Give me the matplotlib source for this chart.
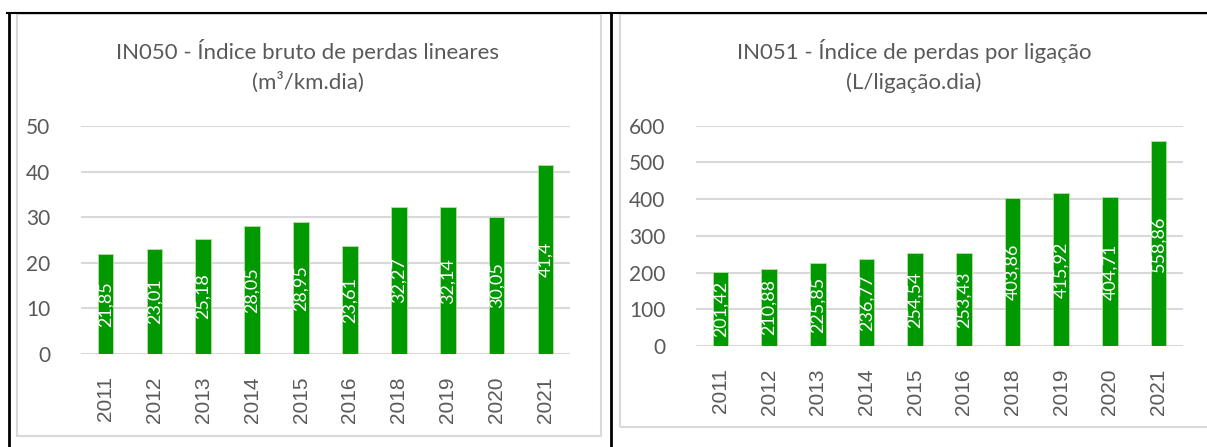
import matplotlib
matplotlib.use("Agg")
import matplotlib.pyplot as plt
from matplotlib.lines import Line2D
from matplotlib.patches import Rectangle

years = ["2011", "2012", "2013", "2014", "2015", "2016", "2018", "2019", "2020", "2021"]
in050 = [21.85, 23.01, 25.18, 28.05, 28.95, 23.61, 32.27, 32.14, 30.05, 41.4]
in051 = [201.42, 210.88, 225.85, 236.77, 254.54, 253.43, 403.86, 415.92, 404.71, 558.86]
title050 = "IN050 - Índice bruto de perdas lineares\n(m³/km.dia)"
title051 = "IN051 - Índice de perdas por ligação\n(L/ligação.dia)"
yticks050 = [0, 10, 20, 30, 40, 50]
yticks051 = [0, 100, 200, 300, 400, 500, 600]

W, H = 1207, 447
fig = plt.figure(figsize=(W / 100, H / 100), dpi=100)
fig.patch.set_facecolor("white")

def px(x0, y0, x1, y1):
    # pixel box (top-left origin) -> figure fraction rect
    return [x0 / W, 1 - y1 / H, (x1 - x0) / W, (y1 - y0) / H]

GREEN = "#009900"
TXT = "#595959"
GRID = "#d9d9d9"

# chart frames (light gray)
fig.add_artist(Rectangle((16.5 / W, 1 - 435.5 / H), (600.5 - 16.5) / W, (435.5 - 14) / H,
                         transform=fig.transFigure, fill=False, edgecolor=GRID, lw=1.5))
fig.add_artist(Rectangle((620 / W, 1 - 427 / H), (1215 - 620) / W, (427 - 14) / H,
                         transform=fig.transFigure, fill=False, edgecolor=GRID, lw=1.5))
# table borders (black)
fig.add_artist(Line2D([7 / W, 1], [1 - 12.7 / H] * 2, transform=fig.transFigure, color="black", lw=1.5))
fig.add_artist(Line2D([8.5 / W] * 2, [0, 1 - 12.7 / H], transform=fig.transFigure, color="black", lw=2))
fig.add_artist(Line2D([611.3 / W] * 2, [0, 1 - 12.7 / H], transform=fig.transFigure, color="black", lw=2))

def draw(rect, values, yticks, title, title_x, fmt):
    ax = fig.add_axes(rect)
    x = list(range(len(years)))
    ax.bar(x, values, width=0.32, color=GREEN, edgecolor="#b7dfa8", linewidth=0.6, zorder=3)
    ax.set_xlim(-0.5, len(years) - 0.5)
    ax.set_ylim(yticks[0], yticks[-1])
    ax.set_yticks(yticks)
    ax.set_yticklabels([str(t) for t in yticks], fontsize=15, color=TXT, family=["Lato", "DejaVu Sans"])
    ax.set_xticks(x)
    ax.set_xticklabels(years, rotation=90, fontsize=15, color=TXT, family=["Liberation Sans", "DejaVu Sans"])
    ax.tick_params(axis="both", length=0)
    ax.tick_params(axis="x", pad=16)
    ax.tick_params(axis="y", pad=22)
    ax.grid(axis="y", color=GRID, lw=1.5, zorder=0)
    for s in ax.spines.values():
        s.set_visible(False)
    ax.set_facecolor("none")
    for xi, v in zip(x, values):
        ax.text(xi, v / 2, fmt(v), rotation=90, ha="center", va="center", color="white",
                fontsize=13, family=["Lato", "DejaVu Sans"], zorder=4)
    fig.text(title_x / W, 1 - 66 / H, title, ha="center", va="center", fontsize=16, color=TXT,
             family=["Lato", "DejaVu Sans"], linespacing=1.55)
    return ax

def fmt(v):
    s = ("%.2f" % v).rstrip("0").rstrip(".") if abs(v * 100 - round(v * 100)) < 1e-6 else str(v)
    return s.replace(".", ",")

draw(px(81, 126, 570, 354), in050, yticks050, title050, 308, fmt)
draw(px(696, 125.7, 1183, 346), in051, yticks051, title051, 914, fmt)

fig.savefig("out.png", dpi=100, facecolor="white")
